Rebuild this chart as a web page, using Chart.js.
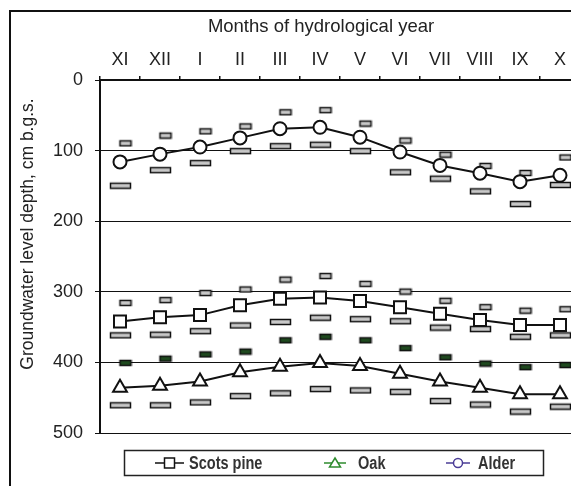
<!DOCTYPE html>
<html>
<head>
<meta charset="utf-8">
<script src="https://cdn.jsdelivr.net/npm/chart.js@4"></script>
<style>
  html, body { margin: 0; padding: 0; background: #fff; overflow: hidden; width: 571px; height: 486px; }
  #frame { position: absolute; left: 9px; top: 10px; width: 700px; height: 600px; border-left: 2px solid #111; border-top: 2px solid #111; }
  #chart { position: absolute; left: 0; top: 0; }
</style>
</head>
<body>
<div id="frame"></div>
<canvas id="chart" width="600" height="486"></canvas>
<script>
// months of the hydrological year
const months = ['XI', 'XII', 'I', 'II', 'III', 'IV', 'V', 'VI', 'VII', 'VIII', 'IX', 'X'];
const yTicks = [0, 100, 200, 300, 400, 500];

// depth below ground surface, cm
const alder = [116, 105, 95, 82, 69, 67, 81, 102, 121, 132, 144, 135];
const alderMin = [89, 78, 72, 65, 45, 42, 61, 85, 105, 121, 131, 109];
const alderMax = [149, 127, 117, 100, 93, 91, 100, 130, 139, 157, 175, 148];

const pine = [342, 336, 333, 319, 310, 308, 313, 322, 331, 340, 347, 347];
const pineMin = [315, 311, 301, 296, 282, 277, 288, 299, 312, 321, 326, 324];
const pineMax = [361, 360, 355, 347, 342, 336, 338, 341, 350, 352, 363, 361];

const oak = [436, 433, 427, 414, 406, 401, 405, 416, 427, 436, 445, 445];
const oakMin = [400, 394, 388, 384, 368, 363, 368, 379, 392, 401, 406, 403];
const oakMax = [460, 460, 456, 447, 443, 437, 439, 441, 454, 459, 469, 462];

const seriesNames = ['Scots pine', 'Oak', 'Alder'];
const xTitle = 'Months of hydrological year';
const yTitle = 'Groundwater level depth, cm b.g.s.';

const FONT = '"Liberation Sans", Arial, sans-serif';
Chart.defaults.font.family = FONT;

// small bar markers for min / max values
function dash(w, dx, fill) {
  const h = 5;
  const cv = document.createElement('canvas');
  cv.width = Math.ceil(2 * (Math.abs(dx) + w / 2)) + 4;
  cv.height = h + 4;
  const ctx = cv.getContext('2d');
  const x0 = Math.round(cv.width / 2 + dx - w / 2) + 0.5;
  ctx.fillStyle = fill;
  ctx.strokeStyle = '#111';
  ctx.lineWidth = 1.5;
  ctx.fillRect(x0, 2.5, w, h);
  ctx.strokeRect(x0, 2.5, w, h);
  return cv;
}
const upDash = dash(11, 5, '#c8c8c8');
const lowDash = dash(20, 0, '#c8c8c8');
const greenDash = dash(11, 5, '#1f4a1f');

function mainLine(data, style, radius) {
  return {
    data: data,
    borderColor: '#111',
    borderWidth: 2,
    pointStyle: style,
    pointRadius: radius,
    pointBackgroundColor: '#fff',
    pointBorderColor: '#111',
    pointBorderWidth: 2,
    tension: 0
  };
}
function dashSet(data, img) {
  return { data: data, showLine: false, pointStyle: img, pointRadius: 3 };
}

const extras = {
  id: 'extras',
  afterDraw(chart) {
    const ctx = chart.ctx;
    ctx.save();
    ctx.fillStyle = '#222';
    ctx.textAlign = 'center';
    ctx.textBaseline = 'middle';
    ctx.font = '18.5px ' + FONT;
    ctx.fillText(xTitle, 321, 27);
    ctx.save();
    ctx.translate(28, 234);
    ctx.rotate(-Math.PI / 2);
    ctx.font = '17.5px ' + FONT;
    ctx.fillText(yTitle, 0, 0);
    ctx.restore();

    // legend box
    ctx.strokeStyle = '#222';
    ctx.lineWidth = 1.5;
    ctx.strokeRect(124.5, 450.5, 419, 25);
    const ly = 463;
    const items = [
      { x0: 155, x1: 184, c: '#111', s: 'rect', tx: 189 },
      { x0: 324, x1: 346, c: '#2e8b2e', s: 'triangle', tx: 358 },
      { x0: 446, x1: 470, c: '#4a3c96', s: 'circle', tx: 478 }
    ];
    items.forEach((it, i) => {
      ctx.strokeStyle = it.c;
      ctx.lineWidth = 1.5;
      ctx.beginPath();
      ctx.moveTo(it.x0, ly);
      ctx.lineTo(it.x1, ly);
      ctx.stroke();
      const cx = (it.x0 + it.x1) / 2;
      ctx.fillStyle = '#fff';
      ctx.beginPath();
      if (it.s === 'rect') ctx.rect(cx - 5, ly - 5, 10, 10);
      else if (it.s === 'triangle') { ctx.moveTo(cx, ly - 5); ctx.lineTo(cx + 5.5, ly + 4); ctx.lineTo(cx - 5.5, ly + 4); ctx.closePath(); }
      else ctx.arc(cx, ly, 4.5, 0, Math.PI * 2);
      ctx.fill();
      ctx.stroke();
      // condensed bold label
      ctx.save();
      ctx.translate(it.tx, ly + 1);
      ctx.scale(0.83, 1);
      ctx.fillStyle = '#333';
      ctx.font = 'bold 17.5px ' + FONT;
      ctx.textAlign = 'left';
      ctx.fillText(seriesNames[i], 0, 0);
      ctx.restore();
    });
    ctx.restore();
  }
};

new Chart(document.getElementById('chart'), {
  type: 'line',
  data: {
    labels: months,
    datasets: [
      mainLine(pine, 'rect', 8.5),
      mainLine(oak, 'triangle', 8),
      mainLine(alder, 'circle', 6.5),
      dashSet(alderMin, upDash),
      dashSet(alderMax, lowDash),
      dashSet(pineMin, upDash),
      dashSet(pineMax, lowDash),
      dashSet(oakMin, greenDash),
      dashSet(oakMax, lowDash)
    ]
  },
  options: {
    responsive: false,
    animation: false,
    events: [],
    layout: { padding: { left: 10, top: 10, right: 20, bottom: 53 } },
    plugins: { legend: { display: false }, tooltip: { enabled: false } },
    scales: {
      x: {
        position: 'top',
        offset: true,
        grid: { offset: true, drawOnChartArea: false, tickLength: 4, color: '#111', lineWidth: 1.5 },
        border: { color: '#111', width: 2 },
        ticks: { color: '#222', font: { size: 18 }, padding: 5, maxRotation: 0, autoSkip: false },
        afterFit(s) { s.height = 70; }
      },
      y: {
        reverse: true,
        min: 0,
        max: 500,
        afterBuildTicks(s) { s.ticks = yTicks.map(v => ({ value: v })); },
        grid: { color: '#111', lineWidth: 1, tickLength: 5 },
        border: { color: '#111', width: 2 },
        ticks: { color: '#222', font: { size: 18 }, padding: 12 },
        afterFit(s) { s.width = 90; }
      }
    }
  },
  plugins: [extras]
});
</script>
</body>
</html>
